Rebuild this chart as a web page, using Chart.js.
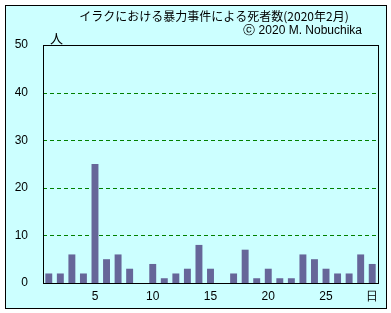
<!DOCTYPE html>
<html>
<head>
<meta charset="utf-8">
<script src="https://cdn.jsdelivr.net/npm/chart.js@4"></script>
<style>
  html, body { margin: 0; padding: 0; background: #fff; }
  #wrap { width: 391px; height: 313px; position: relative; }
</style>
</head>
<body>
<div id="wrap"><canvas id="myChart" width="391" height="313"></canvas></div>
<script>
// February 2020, deaths per day
var days = [1,2,3,4,5,6,7,8,9,10,11,12,13,14,15,16,17,18,19,20,21,22,23,24,25,26,27,28,29];
var deaths = [2,2,6,2,25,5,6,3,0,4,1,2,3,8,3,0,2,7,1,3,1,1,6,5,3,2,2,6,4];
var xTickLabels = ['','','','','5','','','','','10','','','','','15','','','','','20','','','','','25','','','','日'];
var yTicks = [0,10,20,30,40,50];

var titleText = 'イラクにおける暴力事件による死者数(2020年2月)';
var creditText = 'ⓒ 2020 M. Nobuchika';
var unitText = '人';

var jpFont = '"Noto Sans CJK JP", "Noto Sans", sans-serif';
var latinFont = '"Liberation Sans", Arial, sans-serif';

var frame = {
    id: 'frame',
    beforeDraw: function(chart){
        var c = chart.ctx;
        c.save();
        c.fillStyle = '#fff';
        c.fillRect(0, 0, chart.width, chart.height);
        c.fillStyle = '#ccffff';
        c.fillRect(5.5, 5.5, 381, 303);
        c.strokeStyle = '#000';
        c.lineWidth = 1;
        c.strokeRect(5.5, 5.5, 381, 303);
        c.restore();
    },
    beforeDatasetsDraw: function(chart){
        // dashed green grid lines at the inner ticks
        var c = chart.ctx, a = chart.chartArea, y = chart.scales.y;
        c.save();
        c.strokeStyle = '#008000';
        c.lineWidth = 1;
        c.setLineDash([4, 3]);
        y.ticks.forEach(function(t){
            if (t.value === y.min || t.value === y.max) return;
            var py = Math.round(y.getPixelForValue(t.value)) + 0.5;
            c.beginPath();
            c.moveTo(a.left, py);
            c.lineTo(a.right, py);
            c.stroke();
        });
        c.restore();
    },
    afterDraw: function(chart){
        var c = chart.ctx, a = chart.chartArea;
        c.save();
        c.strokeStyle = '#000';
        c.lineWidth = 1;
        c.setLineDash([]);
        c.strokeRect(Math.round(a.left) + 0.5, Math.round(a.top) + 0.5,
                     Math.round(a.right - a.left), Math.round(a.bottom - a.top));
        c.fillStyle = '#000';
        c.font = '12px ' + jpFont;
        c.textAlign = 'center';
        c.textBaseline = 'middle';
        c.fillText(titleText, 214, 16);
        c.font = '12px ' + latinFont;
        c.textAlign = 'right';
        c.fillText(creditText, 362, 31);
        c.font = '13px ' + jpFont;
        c.textAlign = 'left';
        c.fillText(unitText, 50, 38);
        c.restore();
    }
};

var myChart = new Chart(document.getElementById('myChart').getContext('2d'), {
    type: 'bar',
    data: {
        labels: days,
        datasets: [{
            label: '死者数',
            data: deaths,
            backgroundColor: '#666699',
            borderWidth: 0,
            barPercentage: 0.6,
            categoryPercentage: 1.0
        }]
    },
    options: {
        responsive: false,
        animation: false,
        layout: { padding: { left: 0, right: 13, top: 45, bottom: 0 } },
        plugins: {
            legend: { display: false },
            tooltip: { enabled: false }
        },
        scales: {
            x: {
                grid: { display: false, drawTicks: false },
                border: { color: '#000' },
                ticks: {
                    color: '#000',
                    font: { size: 12, family: latinFont },
                    autoSkip: false,
                    maxRotation: 0,
                    padding: 6,
                    callback: function(v, i){ return xTickLabels[i]; }
                },
                afterFit: function(s){ s.height = 30; }
            },
            y: {
                min: 0,
                max: 50,
                afterBuildTicks: function(s){ s.ticks = yTicks.map(function(v){ return {value: v}; }); },
                grid: { display: false, drawTicks: false },
                border: { color: '#000' },
                ticks: {
                    color: '#000',
                    font: { size: 12, family: latinFont },
                    padding: 15
                },
                afterFit: function(s){ s.width = 43; }
            }
        }
    },
    plugins: [frame]
});
</script>
</body>
</html>
